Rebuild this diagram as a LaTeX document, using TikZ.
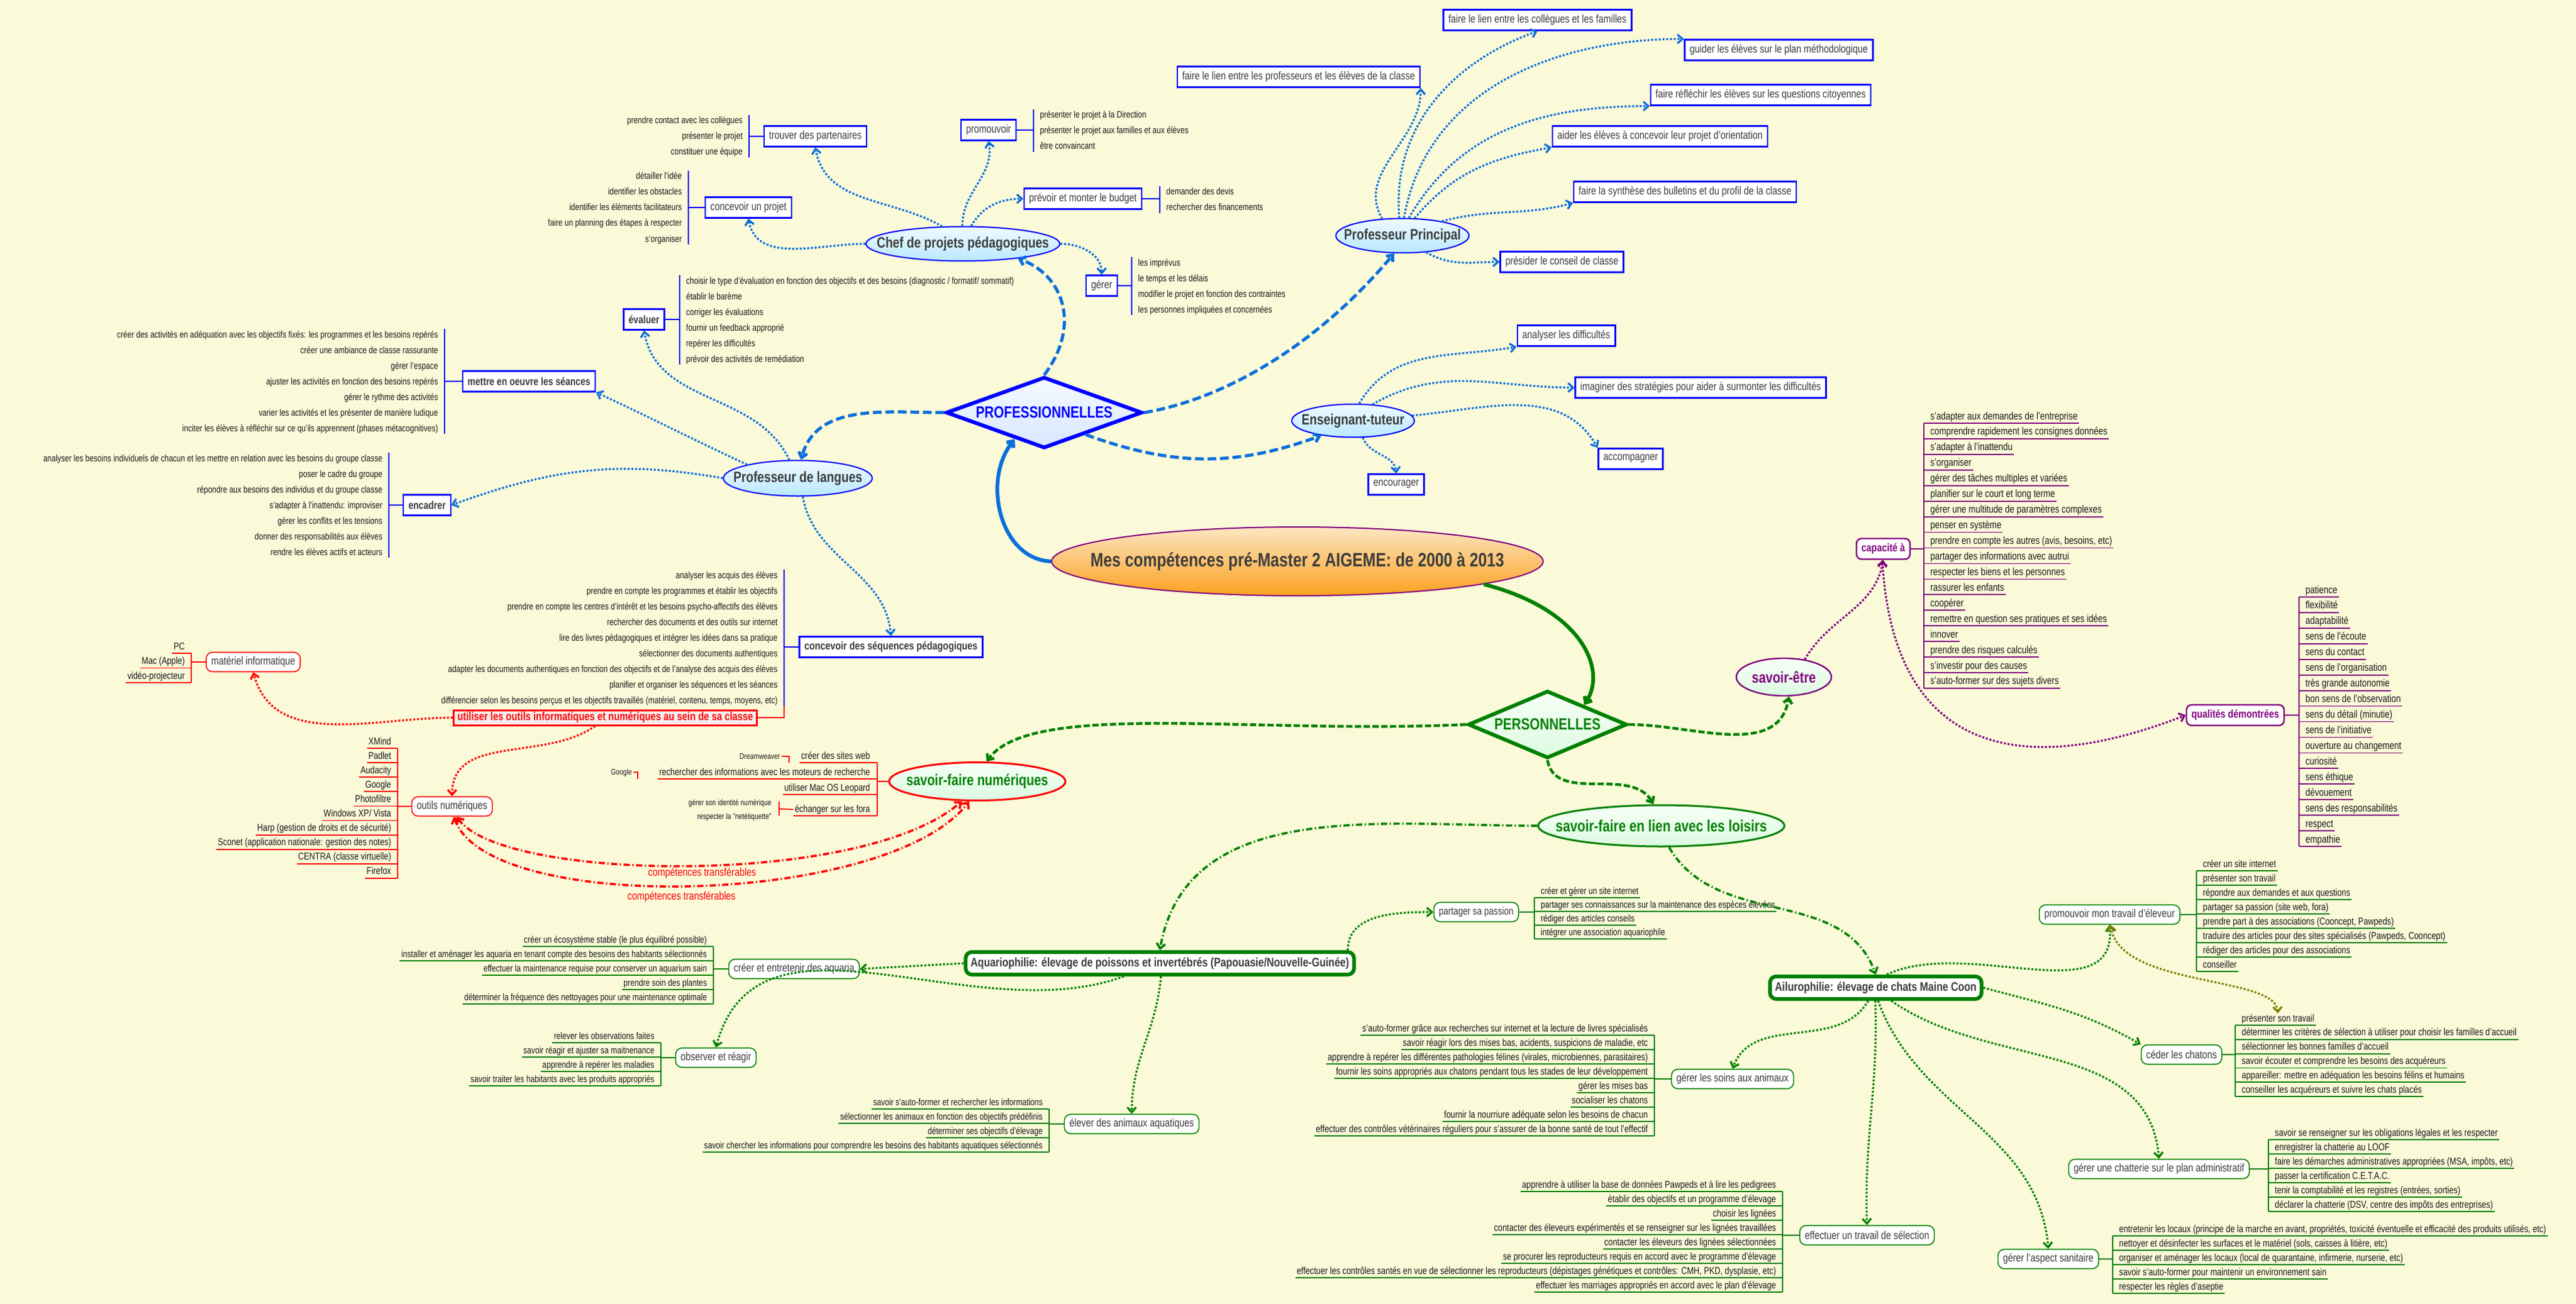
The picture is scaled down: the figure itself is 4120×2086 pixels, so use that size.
\documentclass[tikz,border=0pt]{standalone}
\usepackage{fontspec}
\setmainfont{Liberation Sans}[FakeStretch=0.8]
\usetikzlibrary{shapes.geometric,arrows.meta}
\definecolor{bg}{RGB}{250,250,216}
\definecolor{cb}{RGB}{10,110,220}
\definecolor{pur}{RGB}{128,0,128}
\definecolor{gr}{RGB}{0,128,0}
\definecolor{olv}{RGB}{128,128,0}
\definecolor{tx}{RGB}{60,60,60}
\definecolor{bt}{RGB}{240,250,255}
\definecolor{bb}{RGB}{185,232,255}
\definecolor{ot}{RGB}{253,230,195}
\definecolor{ob}{RGB}{250,160,30}
\definecolor{pt}{RGB}{245,250,255}
\definecolor{pb}{RGB}{215,230,255}
\definecolor{gt}{RGB}{246,255,246}
\definecolor{gb}{RGB}{220,250,225}
\definecolor{uf}{RGB}{245,238,238}
\def\myleaffont{\fontsize{8}{9}\selectfont}
\tikzset{
 >={Straight Barb[length=4pt,width=7pt]},
 leaf/.style={font=\myleaffont, text=black!90, inner sep=1pt},
 bl/.style={blue,line width=0.9pt},
 rl/.style={red,line width=0.9pt},
 gl/.style={gr,line width=0.9pt},
 pl/.style={pur,line width=0.9pt},
 bbox/.style={draw=blue, line width=1.2pt, fill=white, text=tx, font=\fontsize{9}{10}\selectfont, inner xsep=4pt, minimum height=16.5pt},
 bboxb/.style={bbox, font=\bfseries\fontsize{8.8}{10}\selectfont},
 ell/.style={ellipse, inner sep=0pt},
 bell/.style={ell, draw=blue, line width=1pt, top color=bt, bottom color=bb},
 etxt/.style={font=\bfseries\fontsize{12}{13}\selectfont, text=tx, inner sep=0pt},
 gbox/.style={draw=gr, line width=0.8pt, rounded corners=5pt, fill=white, text=tx, font=\fontsize{9}{10}\selectfont, inner xsep=4pt, minimum height=15.5pt},
 Gbox/.style={draw=gr, line width=3pt, rounded corners=5pt, fill=white, text=tx, font=\bfseries\fontsize{10}{11}\selectfont, inner xsep=4pt, minimum height=18pt},
 rbox/.style={draw=red, line width=0.8pt, rounded corners=5pt, fill=white, text=tx, font=\fontsize{9}{10}\selectfont, inner xsep=4pt, minimum height=15.5pt},
 pbox/.style={draw=pur, line width=1.2pt, rounded corners=4pt, fill=white, text=pur, font=\bfseries\fontsize{9}{10}\selectfont, inner xsep=4pt, minimum height=16.5pt},
 bd/.style={cb, line width=1.6pt, dash pattern=on 1.6pt off 1.4pt, ->},
 bD/.style={cb, line width=2.5pt, dash pattern=on 7pt off 3pt, ->},
 gd/.style={gr, line width=1.6pt, dash pattern=on 1.6pt off 1.4pt, ->},
 gD/.style={gr, line width=2.2pt, dash pattern=on 5pt off 2pt, ->},
 gdd/.style={gr, line width=1.8pt, dash pattern=on 5pt off 2pt on 1pt off 2pt, ->},
 rd/.style={red, line width=1.6pt, dash pattern=on 1.6pt off 1.4pt, ->},
 rdd/.style={red, line width=1.8pt, dash pattern=on 5pt off 2pt on 1pt off 2pt, <->},
 pd/.style={pur, line width=1.6pt, dash pattern=on 1.6pt off 1.4pt, ->},
 od/.style={olv, line width=1.6pt, dash pattern=on 1.6pt off 1.4pt, <->},
}
% underlined lists
\newcommand\ulL[8]{%
 \pgfmathsetmacro\bx{#2+8}%
 \foreach \itm [count=\i] in {#8}{%
  \pgfmathsetmacro\yy{#3+(\i-1)*(#4)}%
  \pgfmathsetmacro\yu{\yy+11}%
  \node[leaf,anchor=base east] (#1\i) at (#2,\yy+5) {\itm};
  \draw[#6] (#1\i.west |- 0,\yu) -- (\bx,\yu);
 }%
 \pgfmathsetmacro\ya{#3+11}%
 \pgfmathsetmacro\yb{#3+(#5-1)*(#4)+11}%
 \draw[#6] (\bx,\ya) -- (\bx,\yb);
 \draw[#6] (#7) -- (#7 -| \bx,0);
}
\newcommand\ulR[8]{%
 \pgfmathsetmacro\bx{#2-8}%
 \foreach \itm [count=\i] in {#8}{%
  \pgfmathsetmacro\yy{#3+(\i-1)*(#4)}%
  \pgfmathsetmacro\yu{\yy+11}%
  \node[leaf,anchor=base west] (#1\i) at (#2,\yy+5) {\itm};
  \draw[#6] (\bx,\yu) -- (#1\i.east |- 0,\yu);
 }%
 \pgfmathsetmacro\ya{#3+11}%
 \pgfmathsetmacro\yb{#3+(#5-1)*(#4)+11}%
 \draw[#6] (\bx,\ya) -- (\bx,\yb);
 \draw[#6] (#7) -- (#7 -| \bx,0);
}
% bracket lists
\newcommand\brL[8]{%
 \pgfmathsetmacro\bx{#2+8}%
 \foreach \itm [count=\i] in {#8}{%
  \pgfmathsetmacro\yy{#3+(\i-1)*(#4)}%
  \node[leaf,anchor=base east] (#1\i) at (#2,\yy+5) {\itm};
 }%
 \pgfmathsetmacro\ya{#3-9}%
 \pgfmathsetmacro\yb{#3+(#5-1)*(#4)+9}%
 \draw[#6] (\bx,\ya) -- (\bx,\yb);
 \draw[#6] (#7) -- (#7 -| \bx,0);
}
\newcommand\brR[8]{%
 \pgfmathsetmacro\bx{#2-8}%
 \foreach \itm [count=\i] in {#8}{%
  \pgfmathsetmacro\yy{#3+(\i-1)*(#4)}%
  \node[leaf,anchor=base west] (#1\i) at (#2,\yy+5) {\itm};
 }%
 \pgfmathsetmacro\ya{#3-9}%
 \pgfmathsetmacro\yb{#3+(#5-1)*(#4)+9}%
 \draw[#6] (\bx,\ya) -- (\bx,\yb);
 \draw[#6] (#7) -- (#7 -| \bx,0);
}
\begin{document}
\begin{tikzpicture}[x=0.5pt,y=-0.5pt]
\fill[bg] (0,0) rectangle (4120,2086);
\useasboundingbox (0,0) rectangle (4120,2086);

% ---------- main nodes
\node[ell, draw=pur, line width=1pt, top color=ot, bottom color=ob, minimum width=393pt, minimum height=55pt] (ti) at (2075,898) {};
\node[etxt, font=\bfseries\fontsize{15.5}{17}\selectfont] (tit) at (ti) {Mes compétences pré-Master 2 AIGEME: de 2000 à 2013};
\node[diamond, draw=blue, line width=3pt, top color=pt, bottom color=pb, minimum width=157pt, minimum height=57pt, inner sep=0pt, aspect=2.7, text=blue, font=\bfseries\fontsize{13}{14}\selectfont] (pro) at (1670,660) {PROFESSIONNELLES};
\node[diamond, draw=gr, line width=3pt, top color=gt, bottom color=gb, minimum width=127pt, minimum height=54pt, inner sep=0pt, aspect=2.3, text=gr, font=\bfseries\fontsize{13}{14}\selectfont] (per) at (2475,1159) {PERSONNELLES};

\node[bell, minimum width=155pt, minimum height=27.5pt] (chef) at (1540,390) {};
\node[etxt] (chef-t) at (chef) {Chef de projets pédagogiques};
\node[bell, minimum width=119pt, minimum height=28.5pt] (lang) at (1276,765) {};
\node[etxt] (lang-t) at (lang) {Professeur de langues};
\node[bell, minimum width=106.5pt, minimum height=27.5pt] (pp) at (2243,377) {};
\node[etxt] (pp-t) at (pp) {Professeur Principal};
\node[bell, minimum width=98pt, minimum height=26.5pt] (et) at (2164,673) {};
\node[etxt] (et-t) at (et) {Enseignant-tuteur};

% ---------- chef de projets
\node[bbox] (part) at (1304,218) {trouver des partenaires};
\node[bbox] (cproj) at (1197,332) {concevoir un projet};
\node[bbox] (prom) at (1581,208) {promouvoir};
\node[bbox] (budg) at (1732,318) {prévoir et monter le budget};
\node[bbox] (ger) at (1762,457) {gérer};
\def\myleaffont{\fontsize{7.5}{9}\selectfont}
\brL{pa}{1190}{193}{25}{3}{bl}{part.west}{{prendre contact avec les collègues},{présenter le projet},{constituer une équipe}}
\brL{cp}{1093}{282}{25}{5}{bl}{cproj.west}{{détailler l'idée},{identifier les obstacles},{identifier les éléments facilitateurs},{faire un planning des étapes à respecter},{s'organiser}}
\brR{pr}{1661}{184}{25}{3}{bl}{prom.east}{{présenter le projet à la Direction},{présenter le projet aux familles et aux élèves},{être convaincant}}
\brR{bu}{1863}{307}{25}{2}{bl}{budg.east}{{demander des devis},{rechercher des financements}}
\brR{ge}{1818}{420}{25}{4}{bl}{ger.east}{{les imprévus},{le temps et les délais},{modifier le projet en fonction des contraintes},{les personnes impliquées et concernées}}

% ---------- professeur de langues
\node[bboxb] (eval) at (1030,511) {évaluer};
\node[bboxb] (meo) at (846,610) {mettre en oeuvre les séances};
\node[bboxb] (enc) at (683,808) {encadrer};
\node[bboxb, font=\bfseries\fontsize{9}{10}\selectfont] (cseq) at (1425,1035) {concevoir des séquences pédagogiques};
\node[draw=red, line width=1.5pt, fill=uf, text=red, font=\bfseries\fontsize{9.3}{10}\selectfont, minimum height=12pt, inner xsep=3pt, inner ysep=1pt] (util) at (968,1148) {utiliser les outils informatiques et numériques au sein de sa classe};
\brR{ev}{1095}{449}{25}{6}{bl}{eval.east}{{choisir le type d'évaluation en fonction des objectifs et des besoins (diagnostic / formatif/ sommatif)},{établir le barème},{corriger les évaluations},{fournir un feedback approprié},{repérer les difficultés},{prévoir des activités de remédiation}}
\brL{me}{703}{535}{25}{7}{bl}{meo.west}{{créer des activités en adéquation avec les objectifs fixés: les programmes et les besoins repérés},{créer une ambiance de classe rassurante},{gérer l'espace},{ajuster les activités en fonction des besoins repérés},{gérer le rythme des activités},{varier les activités et les présenter de manière ludique},{inciter les élèves à réfléchir sur ce qu'ils apprennent (phases métacognitives)}}
\brL{en}{614}{733}{25}{7}{bl}{enc.west}{{analyser les besoins individuels de chacun et les mettre en relation avec les besoins du groupe classe},{poser le cadre du groupe},{répondre aux besoins des individus et du groupe classe},{s'adapter à l'inattendu: improviser},{gérer les conflits et les tensions},{donner des responsabilités aux élèves},{rendre les élèves actifs et acteurs}}
\brL{cs}{1246}{920}{25}{9}{bl}{cseq.west}{{analyser les acquis des élèves},{prendre en compte les programmes et établir les objectifs},{prendre en compte les centres d'intérêt et les besoins psycho-affectifs des élèves},{rechercher des documents et des outils sur internet},{lire des livres pédagogiques et intégrer les idées dans sa pratique},{sélectionner des documents authentiques},{adapter les documents authentiques en fonction des objectifs et de l'analyse des acquis des élèves},{planifier et organiser les séquences et les séances},{différencier selon les besoins perçus et les objectifs travaillés (matériel, contenu, temps, moyens, etc)}}
\draw[rl] (1254,1129) -- (1254,1148) -- (util.east);

% ---------- professeur principal
\node[bbox] (p1) at (2077,123) {faire le lien entre les professeurs et les élèves de la classe};
\node[bbox] (p2) at (2459,32) {faire le lien entre les collègues et les familles};
\node[bbox] (p3) at (2845,80) {guider les élèves sur le plan méthodologique};
\node[bbox] (p4) at (2816,152) {faire réfléchir les élèves sur les questions citoyennes};
\node[bbox] (p5) at (2655,218) {aider les élèves à concevoir leur projet d'orientation};
\node[bbox] (p6) at (2695,307) {faire la synthèse des bulletins et du profil de la classe};
\node[bbox] (p7) at (2498,419) {présider le conseil de classe};
% ---------- enseignant-tuteur
\node[bbox] (e1) at (2505,537) {analyser les difficultés};
\node[bbox] (e2) at (2720,620) {imaginer des stratégies pour aider à surmonter les difficultés};
\node[bbox] (e3) at (2608,734) {accompagner};
\node[bbox] (e4) at (2233,775) {encourager};

% ---------- numérique
\node[rbox] (mat) at (405,1059) {matériel informatique};
\node[rbox] (out) at (723,1290) {outils numériques};
\node[ell, draw=red, line width=1.5pt, top color=gt, bottom color=gb, minimum width=141pt, minimum height=30.5pt] (sfn) at (1563,1250) {};
\node[etxt, text=gr, font=\bfseries\fontsize{12.5}{14}\selectfont] (sfn-t) at (sfn) {savoir-faire numériques};
\def\myleaffont{\fontsize{8}{9}\selectfont}
\ulL{ma}{298}{1034}{23.5}{3}{rl}{mat.west}{{PC},{Mac (Apple)},{vidéo-projecteur}}
\ulL{ou}{628}{1186}{23.1}{10}{rl}{out.west}{{XMind},{Padlet},{Audacity},{Google},{Photofiltre},{Windows XP/ Vista},{Harp (gestion de droits et de sécurité)},{Sconet (application nationale: gestion des notes)},{CENTRA (classe virtuelle)},{Firefox}}
\node[leaf,anchor=base east] (sf1) at (1394,1214) {créer des sites web};
\node[leaf,anchor=base east] (sf2) at (1394,1240) {rechercher des informations avec les moteurs de recherche};
\node[leaf,anchor=base east] (sf3) at (1394,1265) {utiliser Mac OS Leopard};
\node[leaf,anchor=base east] (sf4) at (1394,1299) {échanger sur les fora};
\draw[rl] (sf1.west |- 0,1220) -- (1403,1220);
\draw[rl] (sf2.west |- 0,1246) -- (1403,1246);
\draw[rl] (sf3.west |- 0,1271) -- (1403,1271);
\draw[rl] (sf4.west |- 0,1305) -- (1403,1305);
\draw[rl] (1403,1220) -- (1403,1305);
\draw[rl] (sfn.west) -- (1403,1250);
\node[leaf,anchor=base east,font=\fontsize{6.5}{8}\selectfont] (dw) at (1250,1214) {Dreamweaver};
\node[leaf,anchor=base east,font=\fontsize{6.5}{8}\selectfont] (go) at (1013,1239) {Google};
\node[leaf,anchor=base east,font=\fontsize{6.5}{8}\selectfont] (gi) at (1236,1288) {gérer son identité numérique};
\node[leaf,anchor=base east,font=\fontsize{6.5}{8}\selectfont] (rn) at (1236,1310) {respecter la "netétiquette"};
\draw[rl] (dw.east) -- (1262,1210) -- (1262,1220);
\draw[rl] (go.east) -- (1020,1235) -- (1020,1246);
\draw[rl] (1246,1282) -- (1246,1305);
\draw[rl] (1246,1294) -- (sf4.west);
\draw[rd] (util.west) to[out=180,in=-75] (mat.south);
\draw[rd] (util.220) to[out=215,in=90] (out.north);
\draw[rdd] (out.-65) .. controls (800,1410) and (1380,1420) .. (sfn.-128);
\draw[rdd] (out.-80) .. controls (780,1465) and (1420,1450) .. (sfn.-112);
\node[text=red, font=\fontsize{9}{10}\selectfont, inner sep=1pt] (ct1) at (1123,1397) {compétences transférables};
\node[text=red, font=\fontsize{9}{10}\selectfont, inner sep=1pt] (ct2) at (1090,1435) {compétences transférables};

% ---------- savoir-etre
\node[ell, draw=pur, line width=1.2pt, top color=gt, bottom color=gb, minimum width=76pt, minimum height=30pt] (se) at (2853,1083) {};
\node[etxt, text=pur, font=\bfseries\fontsize{12.5}{14}\selectfont] (se-t) at (se) {savoir-être};
\node[pbox] (cap) at (3012,878) {capacité à};
\node[pbox] (qual) at (3575,1144) {qualités démontrées};
\def\myleaffont{\fontsize{8.4}{9}\selectfont}
\ulR{ca}{3085}{666}{24.94}{18}{pl}{cap.east}{{s'adapter aux demandes de l'entreprise},{comprendre rapidement les consignes données},{s'adapter à l'inattendu},{s'organiser},{gérer des tâches multiples et variées},{planifier sur le court et long terme},{gérer une multitude de paramètres complexes},{penser en système},{prendre en compte les autres (avis, besoins, etc)},{partager des informations avec autrui},{respecter les biens et les personnes},{rassurer les enfants},{coopérer},{remettre en question ses pratiques et ses idées},{innover},{prendre des risques calculés},{s'investir pour des causes},{s'auto-former sur des sujets divers}}
\ulR{qu}{3685}{944}{24.94}{17}{pl}{qual.east}{{patience},{flexibilité},{adaptabilité},{sens de l'écoute},{sens du contact},{sens de l'organisation},{très grande autonomie},{bon sens de l'observation},{sens du détail (minutie)},{sens de l'initiative},{ouverture au changement},{curiosité},{sens éthique},{dévouement},{sens des responsabilités},{respect},{empathie}}

% ---------- loisirs
\node[ell, draw=gr, line width=1.5pt, top color=gt, bottom color=gb, minimum width=197pt, minimum height=33pt] (loi) at (2657,1321) {};
\node[etxt, text=gr, font=\bfseries\fontsize{13}{14}\selectfont] (loi-t) at (loi) {savoir-faire en lien avec les loisirs};
\node[Gbox] (aq) at (1855,1541) {Aquariophilie: élevage de poissons et invertébrés (Papouasie/Nouvelle-Guinée)};
\node[Gbox] (ai) at (3000,1580) {Ailurophilie: élevage de chats Maine Coon};
\node[gbox] (cre) at (1270,1550) {créer et entretenir des aquaria};
\node[gbox] (obs) at (1145,1692) {observer et réagir};
\node[gbox] (elv) at (1810,1798) {élever des animaux aquatiques};
\node[gbox, font=\fontsize{8.5}{10}\selectfont] (par) at (2361,1459) {partager sa passion};
\node[gbox] (prm) at (3374,1463) {promouvoir mon travail d'éleveur};
\node[gbox] (ced) at (3489,1687) {céder les chatons};
\node[gbox] (cha) at (3453,1870) {gérer une chatterie sur le plan administratif};
\node[gbox] (san) at (3276,2014) {gérer l'aspect sanitaire};
\node[gbox] (soi) at (2771,1726) {gérer les soins aux animaux};
\node[gbox] (sel) at (2986,1976) {effectuer un travail de sélection};
\def\myleaffont{\fontsize{7.6}{9}\selectfont}
\ulL{cr}{1133}{1503}{23}{5}{gl}{cre.west}{{créer un écosystème stable (le plus équilibré possible)},{installer et aménager les aquaria en tenant compte des besoins des habitants sélectionnés},{effectuer la maintenance requise pour conserver un aquarium sain},{prendre soin des plantes},{déterminer la fréquence des nettoyages pour une maintenance optimale}}
\ulL{ob}{1049}{1657}{23}{4}{gl}{obs.west}{{relever les observations faites},{savoir réagir et ajuster sa maitnenance},{apprendre à repérer les maladies},{savoir traiter les habitants avec les produits appropriés}}
\ulL{el}{1670}{1763}{23}{4}{gl}{elv.west}{{savoir s'auto-former et rechercher les informations},{sélectionner les animaux en fonction des objectifs prédéfinis},{déterminer ses objectifs d'élevage},{savoir chercher les informations pour comprendre les besoins des habitants aquatiques sélectionnés}}
\ulR{ps}{2462}{1425}{22}{4}{gl}{par.east}{{créer et gérer un site internet},{partager ses connaissances sur la maintenance des espèces élevées},{rédiger des articles conseils},{intégrer une association aquariophile}}
\def\myleaffont{\fontsize{8}{9}\selectfont}
\ulR{pm}{3521}{1382}{23}{8}{gl}{prm.east}{{créer un site internet},{présenter son travail},{répondre aux demandes et aux questions},{partager sa passion (site web, fora)},{prendre part à des associations (Cooncept, Pawpeds)},{traduire des articles pour des sites spécialisés (Pawpeds, Cooncept)},{rédiger des articles pour des associations},{conseiller}}
\ulR{cd}{3583}{1629}{22.8}{6}{gl}{ced.east}{{présenter son travail},{déterminer les critères de sélection à utiliser pour choisir les familles d'accueil},{sélectionner les bonnes familles d'accueil},{savoir écouter et comprendre les besoins des acquéreurs},{appareiller: mettre en adéquation les besoins félins et humains},{conseiller les acquéreurs et suivre les chats placés}}
\ulR{ch}{3636}{1812}{23}{6}{gl}{cha.east}{{savoir se renseigner sur les obligations légales et les respecter},{enregistrer la chatterie au LOOF},{faire les démarches administratives appropriées (MSA, impôts, etc)},{passer la certification C.E.T.A.C.},{tenir la comptabilité et les registres (entrées, sorties)},{déclarer la chatterie (DSV, centre des impôts des entreprises)}}
\ulR{sa}{3387}{1966}{23}{5}{gl}{san.east}{{entretenir les locaux (principe de la marche en avant, propriétés, toxicité éventuelle et efficacité des produits utilisés, etc)},{nettoyer et désinfecter les surfaces et le matériel (sols, caisses à litière, etc)},{organiser et aménager les locaux (local de quarantaine, infirmerie, nurserie, etc)},{savoir s'auto-former pour maintenir un environnement sain},{respecter les règles d'aseptie}}
\ulL{so}{2638}{1645}{23}{8}{gl}{soi.west}{{s'auto-former grâce aux recherches sur internet et la lecture de livres spécialisés},{savoir réagir lors des mises bas, acidents, suspicions de maladie, etc},{apprendre à repérer les différentes pathologies félines (virales, microbiennes, parasitaires)},{fournir les soins appropriés aux chatons pendant tous les stades de leur développement},{gérer les mises bas},{socialiser les chatons},{fournir la nourriure adéquate selon les besoins de chacun},{effectuer des contrôles vétérinaires réguliers pour s'assurer de la bonne santé de tout l'effectif}}
\ulL{sl}{2843}{1895}{23}{8}{gl}{sel.west}{{apprendre à utiliser la base de données Pawpeds et à lire les pedigrees},{établir des objectifs et un programme d'élevage},{choisir les lignées},{contacter des éleveurs expérimentés et se renseigner sur les lignées travaillées},{contacter les éleveurs des lignées sélectionnées},{se procurer les reproducteurs requis en accord avec le programme d'élevage},{effectuer les contrôles santés en vue de sélectionner les reproducteurs (dépistages génétiques et contrôles: CMH, PKD, dysplasie, etc)},{effectuer les marriages appropriés en accord avec le plan d'élevage}}

% ---------- connectors
\draw[cb, line width=3pt, ->] (ti.west) .. controls (1600,895) and (1570,770) .. (pro.222);
\draw[gr, line width=3pt, ->] (ti.-7) .. controls (2530,975) and (2570,1070) .. (per.28);
\draw[bD] (pro.north) .. controls (1730,520) and (1700,440) .. (chef.-15);
\draw[bD] (pro.west) to[out=180,in=75] (lang.80);
\draw[bD] (pro.east) .. controls (1950,640) and (2100,560) .. (pp.-115);
\draw[bD] (pro.-28) to[out=-20,in=200] (et.205);

\draw[bd] (chef.140) to[out=150,in=-80] (part.south);
\draw[bd] (chef.92) to[out=90,in=-80] (prom.south);
\draw[bd] (chef.65) to[out=60,in=180] (budg.west);
\draw[bd] (chef.west) to[out=180,in=-80] (cproj.south);
\draw[bd] (chef.east) to[out=0,in=90] (ger.north);

\draw[bd] (lang.115) to[out=115,in=-80] (eval.south);
\draw[bd] (lang.165) to[out=155,in=-25] (meo.south east);
\draw[bd] (lang.west) to[out=170,in=20] (enc.east);
\draw[bd] (lang.-75) to[out=-80,in=95] (cseq.north);

\draw[bd] (pp.140) to[out=120,in=-90] (p1.south east);
\draw[bd] (pp.100) to[out=95,in=200] (p2.south);
\draw[bd] (pp.85) to[out=80,in=180] (p3.north west);
\draw[bd] (pp.70) to[out=60,in=180] (p4.south west);
\draw[bd] (pp.55) to[out=50,in=190] (p5.south west);
\draw[bd] (pp.20) to[out=15,in=195] (p6.south west);
\draw[bd] (pp.-35) to[out=-30,in=180] (p7.west);

\draw[bd] (et.70) to[out=60,in=190] (e1.south west);
\draw[bd] (et.40) to[out=30,in=180] (e2.west);
\draw[bd] (et.5) to[out=5,in=120] (e3.north west);
\draw[bd] (et.-60) to[out=-70,in=95] (e4.north);

\draw[gD] (per.west) .. controls (2000,1175) and (1650,1120) .. (sfn.65);
\draw[gD] (per.east) to[out=0,in=-100] (se.-75);
\draw[gD] (per.south) to[out=-80,in=120] (loi.110);

\draw[pd] (se.40) to[out=60,in=-100] (cap.south);
\draw[pd, <->] (cap.-95) .. controls (3030,1220) and (3250,1240) .. (qual.west);

\draw[gdd] (loi.west) to[out=180,in=80] (aq.north);
\draw[gdd] (loi.-70) to[out=-60,in=110] (ai.north);

\draw[gd] (aq.west) -- (cre.east);
\draw[gd] (aq.-160) to[out=200,in=75] (obs.north);
\draw[gd] (aq.-85) to[out=-95,in=90] (elv.north);
\draw[gd] (aq.4) to[out=90,in=180] (par.west);

\draw[gd] (ai.50) to[out=25,in=-85] (prm.south);
\draw[gd] (ai.east) to[out=-15,in=150] (ced.north west);
\draw[gd] (ai.-40) to[out=-35,in=95] (cha.north);
\draw[gd] (ai.-80) to[out=-70,in=95] (san.north);
\draw[gd] (ai.-120) to[out=-120,in=70] (soi.north);
\draw[gd] (ai.-92) to[out=-88,in=92] (sel.north);
\coordinate (oe) at (3643,1621);
\draw[od] (prm.-85) .. controls (3390,1580) and (3640,1560) .. (oe);
\end{tikzpicture}
\end{document}
